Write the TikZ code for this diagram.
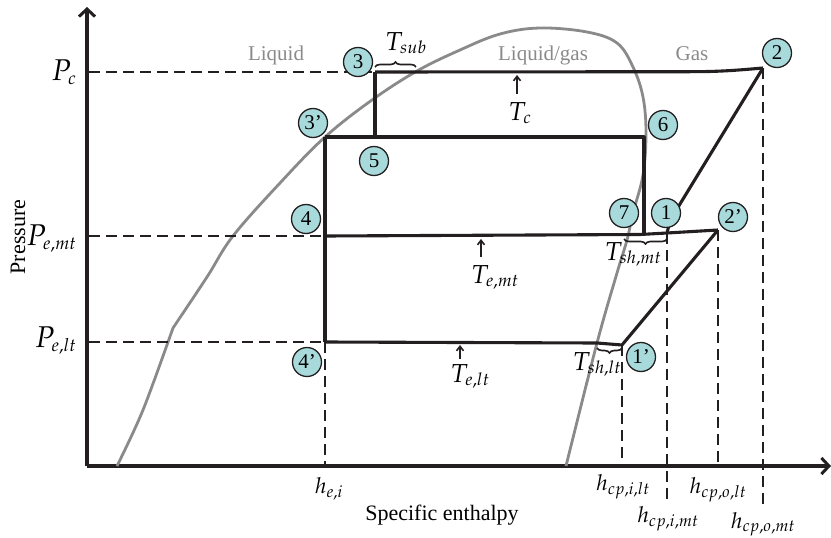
\documentclass[tikz,border=0pt]{standalone}
\usepackage{mathpazo}
\usepackage{fontspec}
\setmainfont{Liberation Serif}
\DeclareMathSizes{30}{30}{18}{12}
\DeclareMathSizes{26}{26}{17.5}{12}
\DeclareMathSizes{22}{22}{16.5}{12}
\usetikzlibrary{arrows.meta,decorations.pathreplacing}
\definecolor{ptc}{HTML}{A8DADC}
\definecolor{domec}{HTML}{8A8A8A}
\definecolor{ink}{HTML}{231F20}
\begin{document}
\begin{tikzpicture}[x=1pt,y=-1pt,
  cyc/.style={line width=3.1pt, ink, line join=round},
  dsh/.style={line width=1.7pt, ink, dash pattern=on 11pt off 6pt},
  axisline/.style={line width=3.3pt, ink, -{Straight Barb[length=7.5pt,width=16pt,line width=3pt]}},
  pnt/.style={circle, draw=ink, line width=1.3pt, fill=ptc, minimum size=29pt, inner sep=0pt, font=\fontsize{21}{21}\selectfont},
  plab/.style={anchor=base east, font=\fontsize{30}{30}\selectfont},
  hlab/.style={anchor=base, font=\fontsize{22}{22}\selectfont},
  tlab/.style={anchor=base, font=\fontsize{26}{26}\selectfont},
  region/.style={anchor=base, text=domec, font=\fontsize{21}{21}\selectfont},
  axlab/.style={font=\fontsize{22}{22}\selectfont},
  uparrow/.style={line width=1.6pt, ink, -{Straight Barb[length=4.5pt,width=7pt]}},
  brc/.style={line width=1.6pt, ink, decorate, decoration={brace, amplitude=5pt}},
  brcm/.style={line width=1.6pt, ink, decorate, decoration={brace, amplitude=5pt, mirror}}
]
\useasboundingbox (0,0) rectangle (831,538);

% axes
\coordinate (O) at (87,466);
\coordinate (ytop) at (87,7);
\coordinate (xend) at (831,466);
\draw[axisline] (O) -- (ytop);
\draw[axisline] (O) -- (xend);

% dome
\draw[domec, line width=2.8pt, line join=round]
  plot[smooth, tension=0.55] coordinates {(117,466) (143,410) (173,328)}
  -- plot[smooth, tension=0.6] coordinates {(173,328) (207,277) (233,236) (280,183) (325,137) (372,100) (417,71) (460,50) (500,34) (540,28) (587,32) (617,43) (633,67) (643,97) (646,133) (643,175) (633,213) (627,240) (617,273) (597,343) (566,466)};

% cycle points
\coordinate (c3) at (375,72);
\coordinate (c2) at (763,68);
\coordinate (c3p) at (325,137);
\coordinate (c5) at (375,137);
\coordinate (c6) at (644,137);
\coordinate (c7) at (644,234);
\coordinate (c4) at (325,236);
\coordinate (c1) at (667,233);
\coordinate (c2p) at (718,230);
\coordinate (c4p) at (325,342);
\coordinate (c1p) at (622,345);

% axis feet
\coordinate (yPc) at (89,72);
\coordinate (yPmt) at (89,236);
\coordinate (yPlt) at (89,342);
\coordinate (xhei) at (325,466);
\coordinate (xhilt) at (622,466);
\coordinate (xhimt) at (667,503);
\coordinate (xholt) at (718,466);
\coordinate (xhomt) at (763,505);

% dashed guides
\draw[dsh] (yPc) -- (c3);
\draw[dsh] (yPmt) -- (c4);
\draw[dsh] (yPlt) -- (c4p);
\draw[dsh] (c4p) -- (xhei);
\draw[dsh] (c1p) -- (xhilt);
\draw[dsh] (c1) -- (xhimt);
\draw[dsh] (c2p) -- (xholt);
\draw[dsh] (c2) -- (xhomt);

% cycle
\draw[cyc] (c3) -- (690,71.7) to[out=0,in=185] (c2);
\draw[cyc] (c3) -- (c5);
\draw[cyc] (c3p) -- (c6) -- (c7);
\draw[cyc] (c3p) -- (c4p);
\draw[cyc] (c4) -- (640,234.5) -- (c1) -- (c2p);
\draw[cyc] (c1) -- (670,221) -- (680,204) -- (c2);
\draw[cyc] (c4p) -- (597,343) -- (c1p) -- (c2p);

% braces
\draw[brc] (375,67) -- (416,67);
\draw[brcm] (624,239) -- (667,239);
\draw[brcm] (597,348) -- (622,348);

% point markers
\node[pnt] (n3) at (358,62) {3};
\node[pnt] (n3p) at (313,123) {3’};
\node[pnt] (n5) at (374,161) {5};
\node[pnt] (n4) at (306,219) {4};
\node[pnt] (n4p) at (307,362) {4’};
\node[pnt] (n2) at (777,53) {2};
\node[pnt] (n6) at (663,125) {6};
\node[pnt] (n7) at (624,213) {7};
\node[pnt] (n1) at (666,213) {1};
\node[pnt] (n2p) at (733,217) {2’};
\node[pnt] (n1p) at (641,357) {1’};

% region labels
\node[region] (liq) at (276,60) {Liquid};
\node[region] (lg) at (543,60) {Liquid/gas};
\node[region] (gas) at (692,60) {Gas};

% pressure labels
\node[plab] (Pc) at (80,80) {$P_c$};
\node[plab] (Pemt) at (80,245) {$P_{e{,}mt}$};
\node[plab] (Pelt) at (80,347) {$P_{e{,}lt}$};

% enthalpy labels
\node[hlab] (hei) at (329,493) {$h_{e{,}i}$};
\node[hlab] (hcpilt) at (623,490) {$h_{cp{,}i{,}lt}$};
\node[hlab] (hcpimt) at (668,522) {$h_{cp{,}i{,}mt}$};
\node[hlab] (hcpolt) at (718,493) {$h_{cp{,}o{,}lt}$};
\node[hlab] (hcpomt) at (763,528) {$h_{cp{,}o{,}mt}$};

% temperature labels
\node[tlab] (Tsub) at (406,50) {$T_{sub}$};
\node[tlab] (Tc) at (520,120) {$T_c$};
\node[tlab] (Temt) at (495,283) {$T_{e{,}mt}$};
\node[tlab] (Telt) at (470,382) {$T_{e{,}lt}$};
\node[tlab] (Tshmt) at (633,260) {$T_{sh{,}mt}$};
\node[tlab] (Tshlt) at (597,370) {$T_{sh{,}lt}$};

% arrows to lines
\coordinate (aTc) at (517,75);
\coordinate (aTemt) at (481,239);
\coordinate (aTelt) at (460,345);
\draw[uparrow] (517,94) -- (aTc);
\draw[uparrow] (481,257) -- (aTemt);
\draw[uparrow] (460,359) -- (aTelt);

% axis titles
\node[axlab, anchor=base] (xt) at (442,520) {Specific enthalpy};
\node[axlab, rotate=90] (yt) at (18,237) {Pressure};
\end{tikzpicture}
\end{document}
